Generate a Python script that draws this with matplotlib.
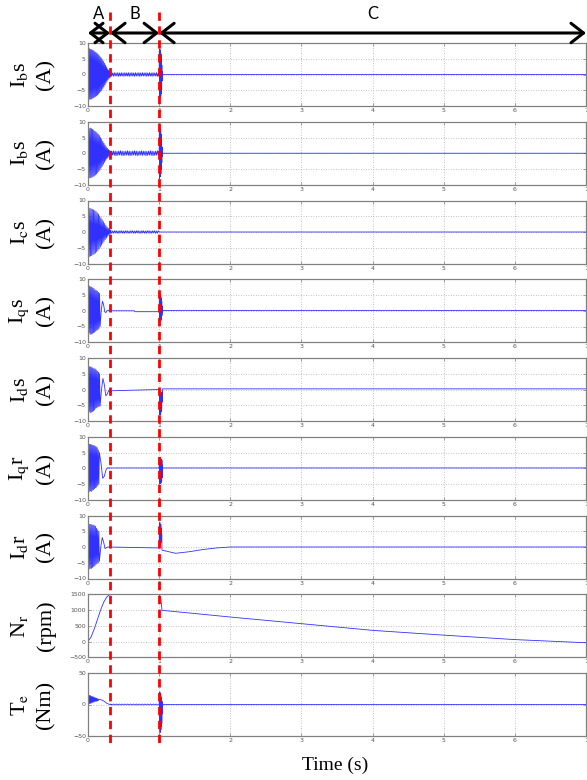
import numpy as np
import matplotlib
matplotlib.use("Agg")
import matplotlib.pyplot as plt
from matplotlib.lines import Line2D
from matplotlib.transforms import blended_transform_factory

plt.rcParams["mathtext.fontset"] = "stix"

# ---------------- data ----------------
# each signal: list of (t_start, t_end, values) – values spread along the span
ias_start = [0, 8.0, -7.8, 8.2, -7.9, 8.0, -7.8, 7.9, -7.6, 7.7, -7.4, 7.5, -7.2, 7.2,
             -7.0, 7.0, -6.8, 6.7, -6.5, 6.4, -6.2, 6.0, -5.8, 5.6, -5.4, 5.2, -5.0, 4.7,
             -4.4, 4.2, -3.9, 3.6, -3.3, 3.0, -2.7, 2.4, -2.1, 1.8, -1.6, 1.4, -1.2, 1.0,
             -0.9, 0.8]
ias_band = [0.6, -0.5, 0.5, -0.6, 0.6, -0.5, 0.5, -0.5, 0.6, -0.6, 0.5, -0.5, 0.6, -0.5,
            0.5, -0.6, 0.6, -0.5, 0.5, -0.5, 0.6, -0.6, 0.5, -0.5, 0.6, -0.5, 0.5, -0.6,
            0.6, -0.5, 0.5, -0.5, 0.6, -0.6, 0.5, -0.5, 0.6, -0.5, 0.5, -0.5, 0.6, -0.6,
            0.5, -0.5, 0.6, -0.5, 0.5, -0.6, 0.6, -0.5, 0.5, -0.5, 0.6, -0.6, 0.5, -0.5]
ias_burst = [0.5, 7.5, -7.0, 8.0, -7.5, 7.8, -7.2, 7.0, -6.8, 6.5, -6.0, 5.0, -4.5,
             3.0, -2.0, 1.0, -0.5, 0.0]

ibs_start = [0, -7.5, 7.8, -7.8, 8.0, -7.8, 7.8, -7.6, 7.6, -7.4, 7.3, -7.2, 7.0, -6.9,
             6.8, -6.6, 6.4, -6.2, 6.0, -5.8, 5.6, -5.3, 5.0, -4.7, 4.4, -4.1, 3.8, -3.5,
             3.2, -2.9, 2.6, -2.3, 2.0, -1.8, 1.6, -1.4, 1.2, -1.0, 0.9, -0.8, 0.7]
ibs_band = [-0.7, 0.7, -0.6, 0.8, -0.7, 0.7, -0.8, 0.6, -0.7, 0.7, -0.6, 0.8, -0.7, 0.7,
            -0.8, 0.6, -0.7, 0.7, -0.6, 0.8, -0.7, 0.7, -0.8, 0.6, -0.7, 0.7, -0.6, 0.8,
            -0.7, 0.7, -0.8, 0.6, -0.7, 0.7, -0.6, 0.8, -0.7, 0.7, -0.6, 0.7, -0.8, 0.6,
            -0.7, 0.7, -0.6, 0.8, -0.7, 0.7, -0.8, 0.6, -0.7, 0.7, -0.6, 0.8, -0.7, 0.7]
ibs_burst = [-0.5, 8.0, -8.0, 8.5, -7.5, 8.0, -7.2, 7.0, -6.5, 6.0, -5.0, 4.0, -3.0,
             2.0, -1.0, 0.5, 0.0]

ics_start = [0, 7.6, -7.8, 7.5, -7.6, 7.4, -7.5, 7.2, -7.2, 7.0, -7.0, 6.8, -6.7, 6.5,
             -6.3, 6.1, -5.9, 5.7, -5.4, 5.1, -4.8, 4.5, -4.2, 3.9, -3.6, 3.3, -3.0, 2.7,
             -2.4, 2.1, -1.9, 1.6, -1.4, 1.2, -1.0, 0.9, -0.7, 0.6]
ics_band = [0.4, -0.4, 0.3, -0.4, 0.4, -0.3, 0.4, -0.4, 0.3, -0.4, 0.4, -0.3, 0.4, -0.4,
            0.3, -0.4, 0.4, -0.3, 0.4, -0.4, 0.3, -0.4, 0.4, -0.3, 0.4, -0.4, 0.3, -0.4,
            0.4, -0.3, 0.4, -0.4, 0.3, -0.4, 0.4, -0.3, 0.4, -0.4, 0.3, -0.4, 0.4, -0.3,
            0.4, -0.4, 0.3, -0.4, 0.4, -0.3, 0.4, -0.4, 0.3, -0.4, 0.4, 0.0]

iqs_start = [0, 8.0, -7.0, 7.8, -7.5, 7.6, -7.4, 7.5, -7.2, 7.2, -7.0, 7.0, -6.8, 6.6,
             -6.5, 6.4, -6.2, 6.2, -6.0, 5.8, -5.6, 5.5, -5.0]
iqs_swing = [-5.0, 0.0, 3.0, 2.0, -0.3, -0.6, 0.0, 0.2, 0.0]
iqs_burst = [-0.3, 5.0, -3.5, 4.8, -3.2, 5.0, -3.4, 4.5, -3.0, 4.0, -2.5, 3.0, -1.5,
             1.5, -0.5, 0.1]

ids_start = [0, 7.0, -7.0, 7.2, -7.4, 7.2, -7.2, 7.0, -7.0, 6.8, -6.8, 6.6, -6.5, 6.5,
             -6.0, 6.2, -5.8, 5.8, -5.5, 5.5, -5.4, 5.0, -5.2]
ids_swing = [-5.2, 0.0, 3.5, 1.5, -2.0, -1.5, -0.3, -0.8, -0.5]
ids_burst = [0.0, -1.5, -8.0, -2.0, -7.5, -1.5, -8.0, -1.2, -7.0, -1.0, -6.0, -0.8,
             -4.0, -0.5, 0.2]

iqr_start = [0, 7.5, -7.5, 7.6, -7.2, 7.6, -7.4, 7.4, -7.0, 7.3, -6.8, 7.2, -6.5, 7.0,
             -6.2, 6.8, -6.0, 6.5, -5.5, 5.8, -5.0, 5.0]
iqr_swing = [5.0, 1.5, -3.2, -2.5, -0.5, 0.2, 0.0]
iqr_burst = [0.0, 3.0, -5.0, 3.2, -4.8, 3.2, -4.9, 3.0, -4.5, 2.8, -4.0, 2.5, -3.0,
             1.0, 0.1]

idr_start = [0, 7.0, -7.0, 7.2, -6.8, 7.2, -6.8, 7.0, -6.5, 7.0, -6.2, 6.8, -6.0, 6.6,
             -5.5, 6.0, -5.2, 5.5, -5.0, 5.0, -4.5]
idr_swing = [-4.5, 0.0, 3.0, 1.5, -0.5, -0.2, 0.0]
idr_burst = [-0.3, 7.5, 0.0, 7.8, 0.5, 7.0, 1.0, 7.2, 1.5, 6.0, 2.0, 4.0, -1.0]
idr_recover = [-1.0, -2.0, -1.5, -0.8, -0.3, 0.0]

nr_rise = [0, 150, 400, 700, 1000, 1250, 1420, 1500]
nr_drop = [1500, 1400, 1000]
nr_decay = [990, 770, 560, 350, 200, 60, -40]

te_start = [0, 15, 1, 14.5, 1.5, 14, 2, 13, 3, 12.5, 3.5, 12, 4, 11, 5, 10.5, 5, 10,
            5.5, 9, 6, 8.5]
te_settle = [8.5, 7.5, 6.5, 4.5, 2.0, 0.5, 0.0]
te_band = [0.8, -0.8, 0.8, -0.8, 0.8, -0.8, 0.8, -0.8, 0.8, -0.8, 0.8, -0.8, 0.8, -0.8,
           0.8, -0.8, 0.8, -0.8, 0.8, -0.8, 0.8, -0.8, 0.8, -0.8, 0.8, -0.8, 0.8, -0.8,
           0.8, -0.8, 0.8, -0.8, 0.8, -0.8, 0.0]
te_burst = [0, 15, -25, 20, -45, 18, -42, 16, -40, 12, -35, 10, -30, 5, -15, 2, 0]

signals = [
    [(0.0, 0.32, ias_start), (0.32, 1.0, ias_band), (1.0, 1.05, ias_burst), (1.05, 7.0, [0.0, 0.0])],
    [(0.0, 0.32, ibs_start), (0.32, 1.0, ibs_band), (1.0, 1.05, ibs_burst), (1.05, 7.0, [0.0, 0.0])],
    [(0.0, 0.32, ics_start), (0.32, 1.0, ics_band), (1.0, 7.0, [0.0, 0.0])],
    [(0.0, 0.17, iqs_start), (0.17, 0.30, iqs_swing), (0.30, 0.65, [0.0, 0.0]),
     (0.66, 1.0, [-0.3, -0.3]), (1.0, 1.05, iqs_burst), (1.05, 7.0, [0.1, 0.1])],
    [(0.0, 0.17, ids_start), (0.17, 0.33, ids_swing), (0.33, 1.0, [-0.4, 0.0]),
     (1.0, 1.05, ids_burst), (1.05, 7.0, [0.2, 0.2])],
    [(0.0, 0.16, iqr_start), (0.16, 0.30, iqr_swing), (0.30, 1.0, [0.1, 0.1]),
     (1.0, 1.05, iqr_burst), (1.05, 7.0, [0.1, 0.1])],
    [(0.0, 0.16, idr_start), (0.16, 0.28, idr_swing), (0.28, 1.0, [0.0, -0.3]),
     (1.0, 1.04, idr_burst), (1.04, 2.0, idr_recover), (2.0, 7.0, [0.0, 0.0])],
    [(0.0, 0.31, nr_rise), (0.31, 1.0, [1500, 1500]), (1.0, 1.04, nr_drop), (1.04, 7.0, nr_decay)],
    [(0.0, 0.15, te_start), (0.15, 0.32, te_settle), (0.32, 1.0, te_band),
     (1.0, 1.05, te_burst), (1.05, 7.0, [0.0, 0.0])],
]

name_labels = [r"I$_{\rm b}$s", r"I$_{\rm b}$s", r"I$_{\rm c}$s", r"I$_{\rm q}$s", r"I$_{\rm d}$s",
               r"I$_{\rm q}$r", r"I$_{\rm d}$r", r"N$_{\rm r}$", r"T$_{\rm e}$"]
unit_labels = ["(A)", "(A)", "(A)", "(A)", "(A)", "(A)", "(A)", "(rpm)", "(Nm)"]
current_ticks = [-10, -5, 0, 5, 10]
nr_ticks = [-500, 0, 500, 1000, 1500]
te_ticks = [-50, 0, 50]
y_ticks = [current_ticks] * 7 + [nr_ticks, te_ticks]
x_ticks = [0, 1, 2, 3, 4, 5, 6, 7]
region_names = ["A", "B", "C"]
region_bounds = [0.0, 0.31, 1.0, 7.0]


def build(segs):
    ts, vs = [], []
    for t0, t1, vals in segs:
        ts.extend(np.linspace(t0, t1, len(vals)))
        vs.extend(vals)
    return ts, vs


# ---------------- figure ----------------
W, H = 587, 780
fig = plt.figure(figsize=(W / 100, H / 100), dpi=100)

left_px, right_px = 88, 586
top0, pitch, ph = 43, 78.75, 63
axes = []
for i, segs in enumerate(signals):
    top = top0 + i * pitch
    ax = fig.add_axes([left_px / W, 1 - (top + ph) / H, (right_px - left_px) / W, ph / H])
    axes.append(ax)
    t, v = build(segs)
    ax.plot(t, v, color="#3030ff", lw=0.6)
    ax.set_xlim(0, 7)
    yt = y_ticks[i]
    ax.set_ylim(yt[0], yt[-1])
    ax.set_yticks(yt)
    ax.set_xticks(x_ticks)
    ax.grid(True, color="#b0b0b0", linestyle=(0, (1, 2)), linewidth=0.6)
    for s in ax.spines.values():
        s.set_color("#808080")
        s.set_linewidth(0.9)
    ax.tick_params(direction="in", length=2.5, width=0.5, color="#808080",
                   labelsize=4.5, labelcolor="#555555", pad=1.5,
                   top=True, right=True)
    cy = 1 - (top + ph / 2) / H
    fig.text(19 / W, cy, name_labels[i], rotation=90, ha="center", va="center",
             fontsize=16, family="Liberation Serif")
    fig.text(46 / W, cy, unit_labels[i], rotation=90, ha="center", va="center",
             fontsize=16, family="Liberation Serif")

fig.text(335 / W, 1 - 765 / H, "Time (s)", ha="center", va="center",
         fontsize=14, family="Liberation Serif")

# red dashed region boundaries
bt = blended_transform_factory(axes[0].transData, fig.transFigure)
for xb in region_bounds[1:3]:
    fig.add_artist(Line2D([xb, xb], [1 - 12 / H, 1 - 746 / H], transform=bt,
                          color="red", lw=2, linestyle=(0, (3, 2))))

# region arrows and letters
ya = 1 - 33 / H
for k, name in enumerate(region_names):
    x0, x1 = region_bounds[k], region_bounds[k + 1]
    axes[0].annotate("", xy=(x1, ya), xytext=(x0, ya), xycoords=bt, textcoords=bt,
                     arrowprops=dict(arrowstyle="<->,head_length=0.9,head_width=0.7",
                                     lw=2.2, color="black", shrinkA=0, shrinkB=0,
                                     mutation_scale=10),
                     annotation_clip=False)
    axes[0].text((x0 + x1) / 2, 1 - 14 / H, name, transform=bt, ha="center", va="center",
                 fontsize=12, family="Lato")

fig.savefig("out.png", dpi=100)
